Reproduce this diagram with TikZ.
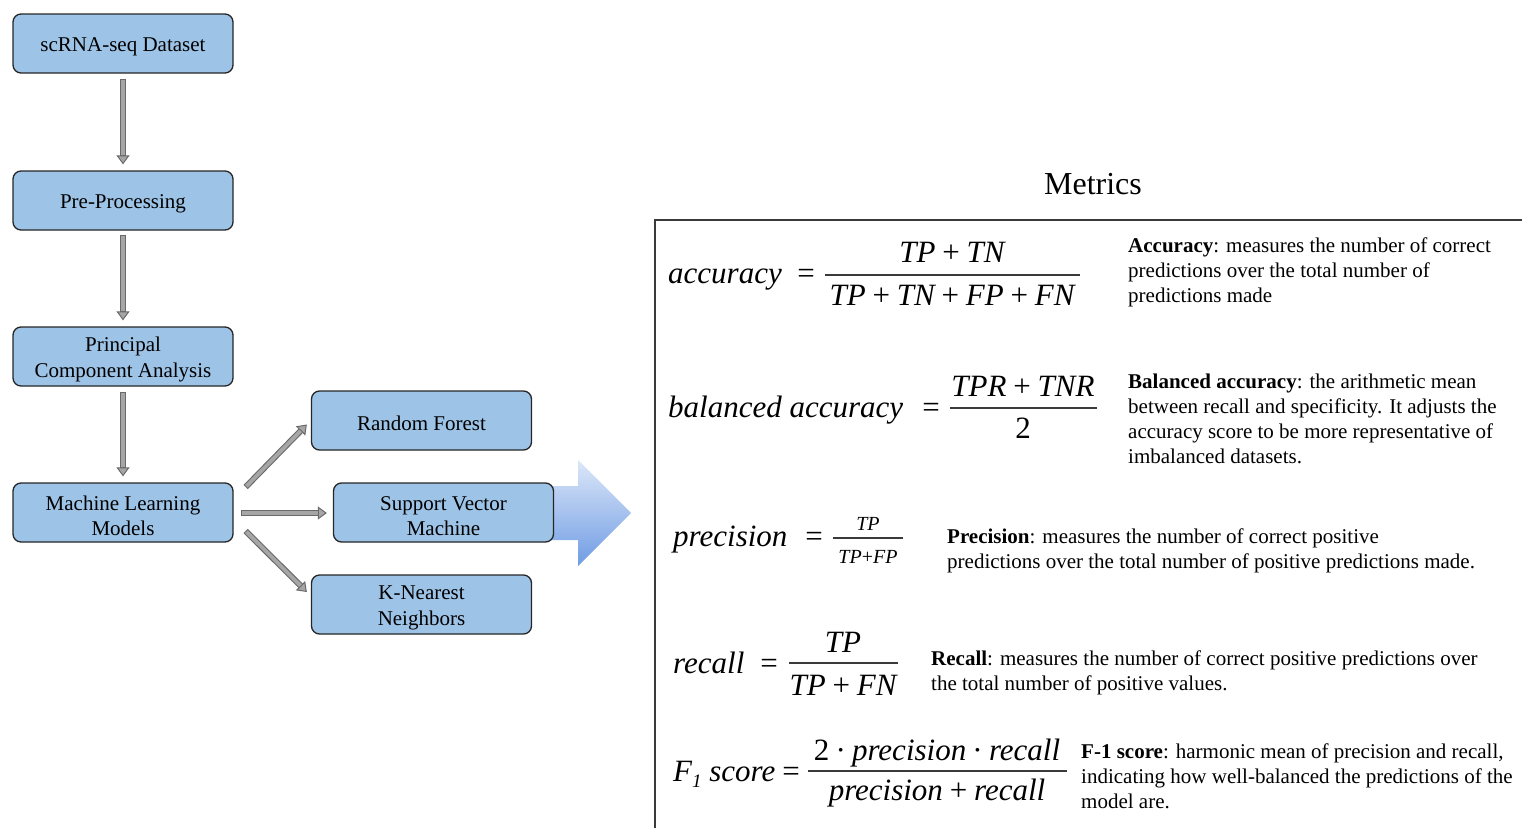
\documentclass[tikz,border=0pt]{standalone}
\usepackage{fontspec}
\setmainfont{Liberation Serif}
\usetikzlibrary{arrows.meta,calc}
\definecolor{boxblue}{HTML}{9DC3E6}
\definecolor{boxborder}{HTML}{262626}
\definecolor{arrowgray}{HTML}{A6A6A6}
\definecolor{arrowdark}{HTML}{6A6A6A}
\definecolor{bigtop}{HTML}{DCE7F8}
\definecolor{bigbot}{HTML}{6F9CE4}
\definecolor{framecol}{HTML}{3A3A3A}
\newcommand\fmfont{\fontsize{31}{31}\selectfont\itshape}
\newcommand\fmsmall{\fontsize{20}{20}\selectfont\itshape}
\newcommand\pl{\hspace{0.22em}{\upshape+}\hspace{0.22em}}
\newcommand\cdt{\hspace{0.2em}{\upshape·}\hspace{0.2em}}
\newcommand\up{\rule{0pt}{21pt}}
\begin{document}
\begin{tikzpicture}[x=1pt,y=-1pt,
  boxbase/.style={draw=boxborder, line width=1.3pt, fill=boxblue, rounded corners=8pt,
    minimum width=220pt, minimum height=59pt, align=center, inner sep=0pt,
    font=\fontsize{21}{25.5}\selectfont},
  box/.style={boxbase, execute at begin node={\rule{0pt}{21pt}}},
  boxtwo/.style={boxbase},
  garrow/.style={draw=arrowdark, line width=6pt,
    -{Triangle[length=9pt,width=13pt,line width=1pt,fill=arrowgray]},
    postaction={draw=arrowgray, line width=3.8pt, -, shorten >=9pt, shorten <=1pt}},
  desc/.style={anchor=north west, inner sep=0pt, align=left, font=\fontsize{21}{25}\selectfont},
  fm/.style={inner sep=0pt, font=\fmfont},
  fms/.style={inner sep=0pt, font=\fmsmall},
  fbar/.style={draw=framecol, line width=1.4pt}
]
\useasboundingbox (0,0) rectangle (1522,827);

% big gradient arrow
\shade[top color=bigtop, bottom color=bigbot]
  (540,486) -- (578,486) -- (578,460) -- (631,513) -- (578,566) -- (578,540) -- (540,540) -- cycle;

% flow boxes
\node[box] (data) at (123,43.5) {scRNA-seq Dataset};
\node[box] (pre) at (123,200.5) {Pre-Processing};
\node[boxtwo] (pca) at (123,356.5) {\up Principal\\Component Analysis};
\node[boxtwo] (ml) at (123,512.5) {\up Machine Learning\\Models};
\node[box] (rf) at (421.5,420.5) {Random Forest};
\node[boxtwo] (svm) at (443.5,512.5) {\up Support Vector\\Machine};
\node[boxtwo] (knn) at (421.5,604.5) {\up K-Nearest\\Neighbors};

% connectors
\draw[garrow] ($(data.south)+(0,5)$) -- ($(pre.north)+(0,-6)$);
\draw[garrow] ($(pre.south)+(0,4)$) -- ($(pca.north)+(0,-6)$);
\draw[garrow] ($(pca.south)+(0,5)$) -- ($(ml.north)+(0,-6)$);
\draw[garrow] ($(ml.east)+(12,-25.5)$) -- ($(rf.west)+(-4,4)$);
\draw[garrow] ($(ml.east)+(7,0.5)$) -- ($(svm.west)+(-6,0.5)$);
\draw[garrow] ($(ml.east)+(12,18.5)$) -- ($(knn.west)+(-4,-12.5)$);

% metrics title and frame
\node[font=\fontsize{32}{32}\selectfont, anchor=base, inner sep=0pt] (title) at (1093,194) {Metrics};
\draw[draw=framecol, line width=1.8pt] (1530,220) -- (655,220) -- (655,835);

% accuracy
\node[fm, anchor=base west] (accL) at (668,283) {accuracy};
\node[fm, anchor=base] (accE) at (806,283) {\upshape=};
\draw[fbar] (825,275) -- (1080,275);
\node[fm, anchor=base] (accN) at (952,262) {TP\pl TN};
\node[fm, anchor=base] (accD) at (952,305) {TP\pl TN\pl FP\pl FN};
\node[desc] (accT) at (1128,237) {\rule{0pt}{15pt}\textbf{Accuracy}: measures the number of correct\\predictions over the total number of\\predictions made};

% balanced accuracy
\node[fm, anchor=base west] (balL) at (668,417) {balanced accuracy};
\node[fm, anchor=base] (balE) at (931,417) {\upshape=};
\draw[fbar] (950,408) -- (1097,408);
\node[fm, anchor=base] (balN) at (1023,396) {TPR\pl TNR};
\node[fm, anchor=base] (balD) at (1023,438) {\upshape 2};
\node[desc] (balT) at (1128,373) {\rule{0pt}{15pt}\textbf{Balanced accuracy}: the arithmetic mean\\between recall and specificity. It adjusts the\\accuracy score to be more representative of\\imbalanced datasets.};

% precision
\node[fm, anchor=base west] (preL) at (673,546) {precision};
\node[fm, anchor=base] (preE) at (814,546) {\upshape=};
\draw[fbar, line width=1.1pt] (833,538) -- (903,538);
\node[fms, anchor=base] (preN) at (868,530) {TP};
\node[fms, anchor=base] (preD) at (868,563) {TP{\upshape+}FP};
\node[desc] (preT) at (947,528) {\rule{0pt}{15pt}\textbf{Precision}: measures the number of correct positive\\predictions over the total number of positive predictions made.};

% recall
\node[fm, anchor=base west] (recL) at (673,673) {recall};
\node[fm, anchor=base] (recE) at (769,673) {\upshape=};
\draw[fbar] (789,663) -- (898,663);
\node[fm, anchor=base] (recN) at (843,652) {TP};
\node[fm, anchor=base] (recD) at (843,695) {TP\pl FN};
\node[desc] (recT) at (931,650) {\rule{0pt}{15pt}\textbf{Recall}: measures the number of correct positive predictions over\\the total number of positive values.};

% F1 score
\node[fm, anchor=base west] (f1L) at (673,781) {F\raisebox{-0.2em}{\fontsize{19}{19}\selectfont 1} score};
\node[fm, anchor=base] (f1E) at (791,781) {\upshape=};
\draw[fbar] (808,771) -- (1067,771);
\node[fm, anchor=base] (f1N) at (937,760) {{\upshape 2}\cdt precision\cdt recall};
\node[fm, anchor=base] (f1D) at (937,800) {precision\pl recall};
\node[desc] (f1T) at (1081,743) {\rule{0pt}{15pt}\textbf{F-1 score}: harmonic mean of precision and recall,\\indicating how well-balanced the predictions of the\\model are.};
\end{tikzpicture}
\end{document}
